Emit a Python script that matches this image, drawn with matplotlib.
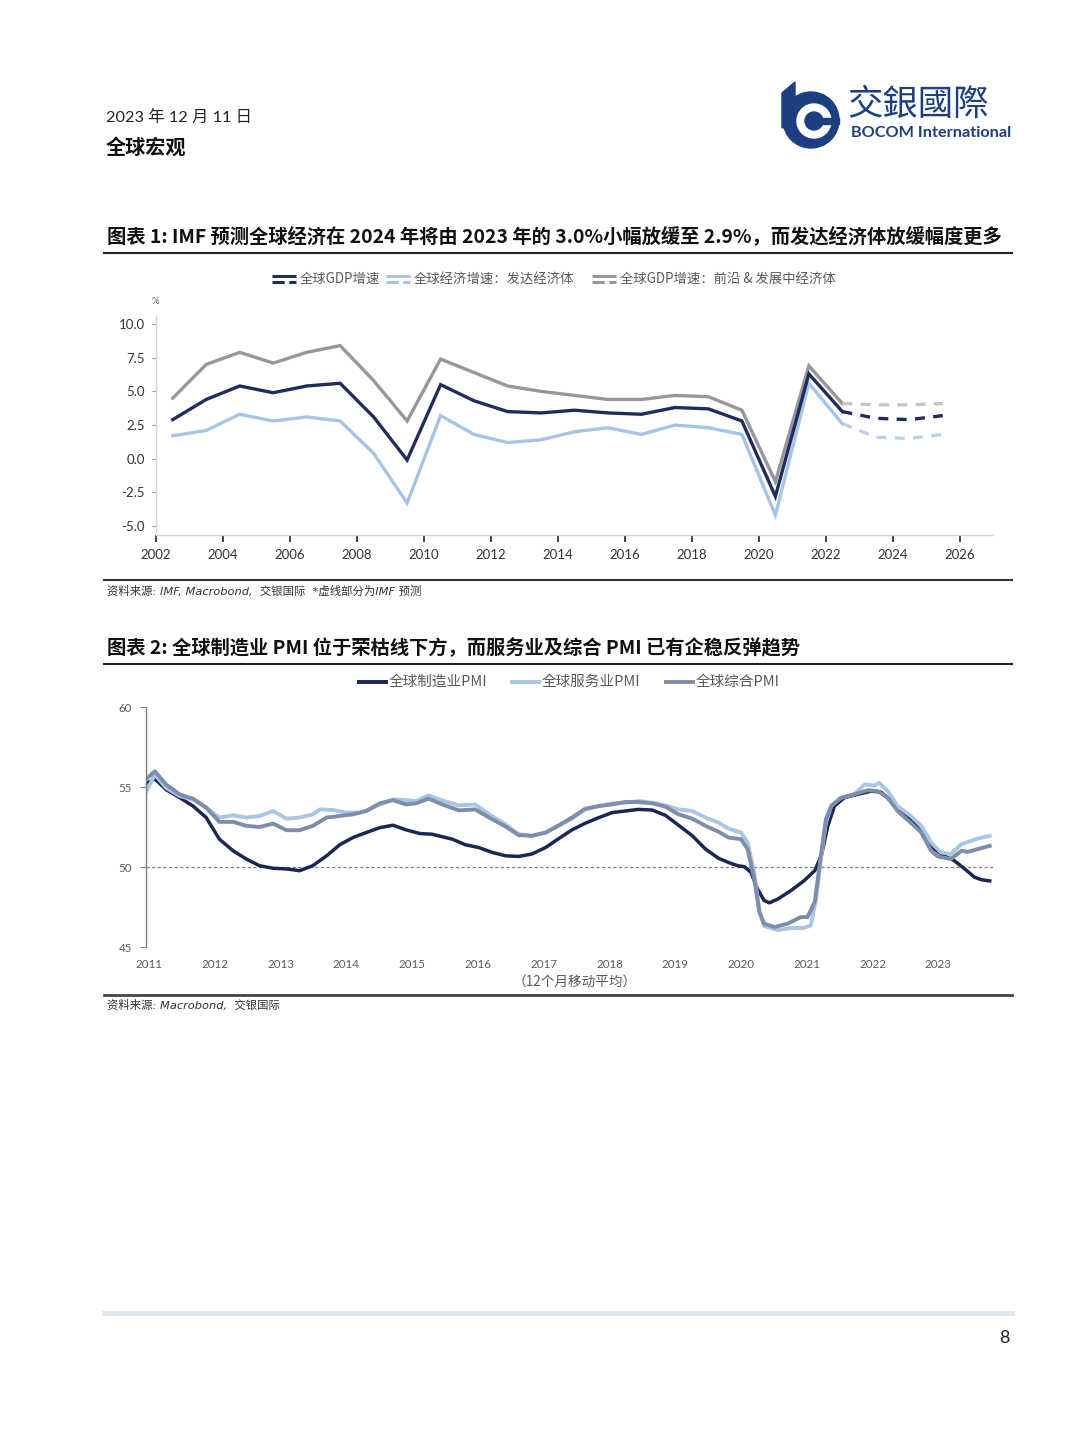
import numpy as np
import matplotlib
matplotlib.use("Agg")
import matplotlib.pyplot as plt
from matplotlib.patches import Circle, Polygon, Rectangle

W, H = 1080, 1443
CJK = ["Noto Sans CJK SC", "DejaVu Sans"]
LAT = ["Lato", "Noto Sans CJK SC", "DejaVu Sans"]

# ---- chart 1: IMF real GDP growth, % (2023-2025 are IMF forecasts) ----
gdp_years = np.arange(2002, 2026)
world_gdp = [2.9, 4.4, 5.4, 4.9, 5.4, 5.6, 3.1, -0.1, 5.5, 4.3, 3.5, 3.4,
             3.6, 3.4, 3.3, 3.8, 3.7, 2.8, -2.8, 6.3, 3.5, 3.0, 2.9, 3.2]
advanced_gdp = [1.7, 2.1, 3.3, 2.8, 3.1, 2.8, 0.4, -3.3, 3.2, 1.8, 1.2, 1.4,
                2.0, 2.3, 1.8, 2.5, 2.3, 1.8, -4.2, 5.6, 2.6, 1.6, 1.5, 1.8]
emerging_gdp = [4.5, 7.0, 7.9, 7.1, 7.9, 8.4, 5.8, 2.8, 7.4, 6.4, 5.4, 5.0,
                4.7, 4.4, 4.4, 4.7, 4.6, 3.6, -1.7, 6.9, 4.1, 4.0, 4.0, 4.1]
last_actual = 2022
gdp_labels = ["全球GDP增速", "全球经济增速：发达经济体", "全球GDP增速：前沿 & 发展中经济体"]

# ---- chart 2: global PMI, 12m moving average (time in fractional years) ----
mfg_t = [2010.95, 2011.09, 2011.26, 2011.47, 2011.67, 2011.87, 2012.07, 2012.28,
         2012.48, 2012.68, 2012.89, 2013.09, 2013.29, 2013.49, 2013.70, 2013.90,
         2014.10, 2014.30, 2014.51, 2014.71, 2014.91, 2015.12, 2015.30, 2015.61,
         2015.81, 2016.01, 2016.22, 2016.42, 2016.62, 2016.82, 2017.03, 2017.23,
         2017.43, 2017.63, 2017.84, 2018.04, 2018.24, 2018.44, 2018.65, 2018.85,
         2019.05, 2019.26, 2019.46, 2019.66, 2019.83, 2019.95, 2020.05, 2020.15,
         2020.25, 2020.35, 2020.43, 2020.56, 2020.76, 2020.96, 2021.12, 2021.22,
         2021.32, 2021.42, 2021.57, 2021.77, 2021.98, 2022.13, 2022.28, 2022.43,
         2022.58, 2022.79, 2022.94, 2023.09, 2023.24, 2023.40, 2023.55, 2023.65,
         2023.78]
mfg_v = [55.2, 55.5, 54.84, 54.33, 53.81, 53.09, 51.74, 51.01,
         50.5, 50.08, 49.92, 49.88, 49.77, 50.08, 50.7, 51.39,
         51.84, 52.15, 52.46, 52.61, 52.32, 52.09, 52.05, 51.74,
         51.39, 51.22, 50.91, 50.7, 50.66, 50.81, 51.22, 51.78,
         52.32, 52.73, 53.09, 53.4, 53.5, 53.6, 53.56, 53.23,
         52.61, 51.95, 51.12, 50.54, 50.25, 50.08, 50.02, 49.67,
         48.63, 47.91, 47.76, 48.0, 48.53, 49.15, 49.77, 50.7,
         52.57, 53.81, 54.33, 54.54, 54.74, 54.68, 54.12, 53.5,
         52.98, 51.95, 51.12, 50.7, 50.4, 49.88, 49.36, 49.21,
         49.13]

svc_t = [2010.95, 2011.09, 2011.26, 2011.47, 2011.67, 2011.87, 2012.07, 2012.28,
         2012.48, 2012.68, 2012.89, 2013.09, 2013.29, 2013.49, 2013.60, 2013.80,
         2014.00, 2014.20, 2014.30, 2014.51, 2014.71, 2014.91, 2015.06, 2015.25,
         2015.46, 2015.71, 2015.96, 2016.17, 2016.42, 2016.62, 2016.82, 2017.03,
         2017.23, 2017.43, 2017.63, 2017.84, 2018.04, 2018.24, 2018.44, 2018.65,
         2018.85, 2019.05, 2019.26, 2019.46, 2019.66, 2019.81, 2020.00, 2020.10,
         2020.20, 2020.28, 2020.35, 2020.56, 2020.76, 2020.96, 2021.06, 2021.14,
         2021.22, 2021.29, 2021.37, 2021.52, 2021.72, 2021.88, 2022.03, 2022.10,
         2022.23, 2022.38, 2022.58, 2022.74, 2022.89, 2023.04, 2023.19, 2023.35,
         2023.45, 2023.60, 2023.78]
svc_v = [54.64, 55.78, 54.95, 54.43, 54.22, 53.71, 53.09, 53.23,
         53.09, 53.19, 53.5, 53.02, 53.09, 53.29, 53.6, 53.56,
         53.4, 53.4, 53.5, 53.91, 54.22, 54.18, 54.12, 54.47,
         54.16, 53.85, 53.91, 53.29, 52.67, 52.05, 51.95, 52.15,
         52.57, 53.02, 53.6, 53.81, 53.98, 54.02, 54.12, 54.02,
         53.85, 53.6, 53.5, 53.09, 52.77, 52.4, 52.15, 51.53,
         49.67, 47.19, 46.32, 46.05, 46.19, 46.19, 46.35, 48.01,
         50.7, 52.77, 53.81, 54.33, 54.54, 55.16, 55.09, 55.26,
         54.74, 53.81, 53.19, 52.57, 51.53, 50.91, 50.81, 51.43,
         51.57, 51.78, 51.95]

cmp_t = [2010.95, 2011.09, 2011.26, 2011.47, 2011.67, 2011.87, 2012.07, 2012.28,
         2012.48, 2012.68, 2012.89, 2013.09, 2013.29, 2013.49, 2013.70, 2013.90,
         2014.10, 2014.30, 2014.51, 2014.71, 2014.91, 2015.06, 2015.25, 2015.46,
         2015.71, 2015.96, 2016.17, 2016.42, 2016.62, 2016.82, 2017.03, 2017.23,
         2017.43, 2017.63, 2017.84, 2018.04, 2018.24, 2018.44, 2018.65, 2018.85,
         2019.05, 2019.26, 2019.46, 2019.66, 2019.81, 2020.00, 2020.10, 2020.20,
         2020.28, 2020.35, 2020.51, 2020.71, 2020.91, 2021.01, 2021.12, 2021.22,
         2021.29, 2021.37, 2021.52, 2021.72, 2021.93, 2022.08, 2022.23, 2022.38,
         2022.58, 2022.74, 2022.89, 2022.99, 2023.19, 2023.35, 2023.45, 2023.60,
         2023.78]
cmp_v = [55.47, 55.98, 55.16, 54.53, 54.27, 53.71, 52.82, 52.82,
         52.57, 52.5, 52.71, 52.3, 52.3, 52.57, 53.09, 53.19,
         53.29, 53.5, 53.98, 54.18, 53.91, 53.98, 54.27, 53.91,
         53.54, 53.6, 53.09, 52.53, 51.99, 51.95, 52.15, 52.61,
         53.09, 53.64, 53.81, 53.91, 54.06, 54.06, 53.98, 53.77,
         53.29, 53.02, 52.57, 52.2, 51.84, 51.74, 51.12, 49.25,
         47.19, 46.46, 46.25, 46.46, 46.87, 46.87, 47.81, 50.91,
         52.98, 53.81, 54.33, 54.54, 54.8, 54.74, 54.33, 53.5,
         52.77, 52.15, 51.01, 50.66, 50.5, 51.01, 50.95, 51.12,
         51.32]
pmi_labels = ["全球制造业PMI", "全球服务业PMI", "全球综合PMI"]
pmi_years = list(range(2011, 2024))

NAVY, LIGHT, GREY = "#212c5e", "#a6c4e5", "#979797"
NAVY2, LIGHT2, SLATE = "#1b2656", "#a9c6e6", "#7e8da8"


def px_axes(fig, left, top, right, bottom):
    return fig.add_axes([left / W, 1 - bottom / H, (right - left) / W, (bottom - top) / H])


fig = plt.figure(figsize=(W / 100, H / 100), dpi=100)

# page layer in pixel coordinates
pg = fig.add_axes([0, 0, 1, 1])
pg.set_xlim(0, W); pg.set_ylim(H, 0); pg.axis("off")

# header
pg.text(106, 117, "2023 年 12 月 11 日", family=LAT, fontsize=11.8, color="#222222", va="center")
pg.text(106, 147, "全球宏观", family=CJK, fontsize=14.5, weight="bold", color="#111111", va="center")

# logo (rough)
BLUE = "#1d3f82"
pg.add_patch(Circle((811, 120), 28, color=BLUE, zorder=2))
pg.add_patch(Polygon([(782, 93), (795, 82), (795, 125), (782, 128)], color=BLUE, zorder=2))
pg.add_patch(Circle((814, 121), 17, color="white", zorder=3))
pg.add_patch(Circle((814, 121), 9, color=BLUE, zorder=4))
pg.add_patch(Rectangle((814, 118), 25, 6, color=BLUE, zorder=4))
pg.text(847, 105, "交銀國際", family=["Noto Sans CJK TC", "DejaVu Sans"], fontsize=25.5,
        color=BLUE, va="center")
pg.text(851, 133, "BOCOM International", family=["Lato", "DejaVu Sans"], fontsize=11.7,
        weight="bold", color=BLUE, va="center")

# chart 1 frame + title
pg.text(107, 236, "图表 1: IMF 预测全球经济在 2024 年将由 2023 年的 3.0%小幅放缓至 2.9%，而发达经济体放缓幅度更多",
        family=CJK, fontsize=13.9, weight="bold", color="#111111", va="center")
pg.plot([104, 1012], [253, 253], color="#222222", lw=1.5)
pg.plot([104, 1012], [580, 580], color="#333333", lw=1.5)
pg.text(107, 591, "资料来源: IMF, Macrobond,  交银国际  *虚线部分为IMF 预测",
        family=["DejaVu Sans", "Noto Sans CJK SC"], style="italic", fontsize=8.2, color="#333333", va="center")

# chart 1 legend
for (x0, col, lab) in [(272, NAVY, gdp_labels[0]), (386, LIGHT, gdp_labels[1]), (592, GREY, gdp_labels[2])]:
    pg.plot([x0, x0 + 24], [276, 276], color=col, lw=2.2, solid_capstyle="butt")
    pg.plot([x0, x0 + 24], [282, 282], color=col, lw=2.2, ls=(0, (4, 1.5)))
    pg.text(x0 + 28, 279, lab, family=CJK, fontsize=9.6, color="#595959", va="center")
pg.text(155, 302, "%", family=LAT, fontsize=7, color="#666666", ha="center", va="center")

# chart 2 frame + title
pg.text(107, 648, "图表 2: 全球制造业 PMI 位于荣枯线下方，而服务业及综合 PMI 已有企稳反弹趋势",
        family=CJK, fontsize=13.9, weight="bold", color="#111111", va="center")
pg.plot([104, 1012], [664, 664], color="#222222", lw=1.5)
pg.plot([104, 1012], [995, 995], color="#444444", lw=2)
pg.text(107, 1005, "资料来源: Macrobond,  交银国际",
        family=["DejaVu Sans", "Noto Sans CJK SC"], style="italic", fontsize=8.2, color="#333333", va="center")

for (x0, col, lab) in [(357, NAVY2, pmi_labels[0]), (510, LIGHT2, pmi_labels[1]), (664, SLATE, pmi_labels[2])]:
    pg.plot([x0, x0 + 31], [682, 682], color=col, lw=2.8, solid_capstyle="butt")
    pg.text(x0 + 32, 682, lab, family=CJK, fontsize=10.5, color="#595959", va="center")
pg.text(575, 982, "（12个月移动平均）", family=CJK, fontsize=9.8, color="#595959", ha="center", va="center")

# footer
pg.plot([104, 1012], [1313, 1313], color="#dde9ec", lw=3.5)
pg.text(1004, 1338, "8", family=LAT, fontsize=13, color="#222222", ha="center", va="center")

# ---- chart 1 ----
ax1 = px_axes(fig, 156, 316, 993, 535)
ax1.set_facecolor("none")
x_mid = gdp_years + 0.5
hist = gdp_years <= last_actual
fc = gdp_years >= last_actual
series1 = [(emerging_gdp, GREY, "#c6c6c6"), (advanced_gdp, LIGHT, "#b9d1eb"), (world_gdp, NAVY, NAVY)]
for vals, col, fcol in series1:
    v = np.array(vals)
    ax1.plot(x_mid[hist], v[hist], color=col, lw=2.4, solid_joinstyle="miter")
    ax1.plot(x_mid[fc], v[fc], color=fcol, lw=2.4, ls=(0, (3, 2.5)))
ax1.set_xlim(2002, 2027)
ax1.set_ylim(-5.67, 10.6)
ax1.set_xticks(range(2002, 2027, 2))
ax1.set_yticks([-5, -2.5, 0, 2.5, 5, 7.5, 10])
ax1.set_yticklabels(["-5.0", "-2.5", "0.0", "2.5", "5.0", "7.5", "10.0"])
for s in ["top", "right"]:
    ax1.spines[s].set_visible(False)
for s in ["left", "bottom"]:
    ax1.spines[s].set_color("#d6d6d6")
    ax1.spines[s].set_linewidth(1)
ax1.tick_params(axis="x", direction="out", length=5, width=1.2, color="#222222",
                labelsize=9.5, labelcolor="#333333", pad=5)
ax1.tick_params(axis="y", direction="out", length=3, width=0.8, color="#999999",
                labelsize=9.5, labelcolor="#333333", pad=5)
for lab in ax1.get_xticklabels() + ax1.get_yticklabels():
    lab.set_family(LAT)

# ---- chart 2 ----
ax2 = px_axes(fig, 146, 707, 993, 947)
ax2.set_facecolor("none")
ax2.axhline(50, color="#7f7f7f", lw=0.9, ls=(0, (2.5, 2)))
ax2.plot(mfg_t, mfg_v, color=NAVY2, lw=2.5)
ax2.plot(svc_t, svc_v, color=LIGHT2, lw=2.8)
ax2.plot(cmp_t, cmp_v, color=SLATE, lw=2.8)
ax2.set_xlim(2010.955, 2023.83)
ax2.set_ylim(45, 60)
ax2.set_yticks([45, 50, 55, 60])
ax2.set_xticks(pmi_years)
for s in ["top", "right", "bottom"]:
    ax2.spines[s].set_visible(False)
ax2.spines["left"].set_color("#808080")
ax2.spines["left"].set_linewidth(1)
ax2.tick_params(axis="y", direction="out", length=4, width=0.8, color="#808080",
                labelsize=8.3, labelcolor="#595959", pad=6)
ax2.tick_params(axis="x", length=0, labelsize=8.3, labelcolor="#595959", pad=9)
for lab in ax2.get_xticklabels() + ax2.get_yticklabels():
    lab.set_family(LAT)

fig.savefig("out.png", dpi=100, facecolor="white")
